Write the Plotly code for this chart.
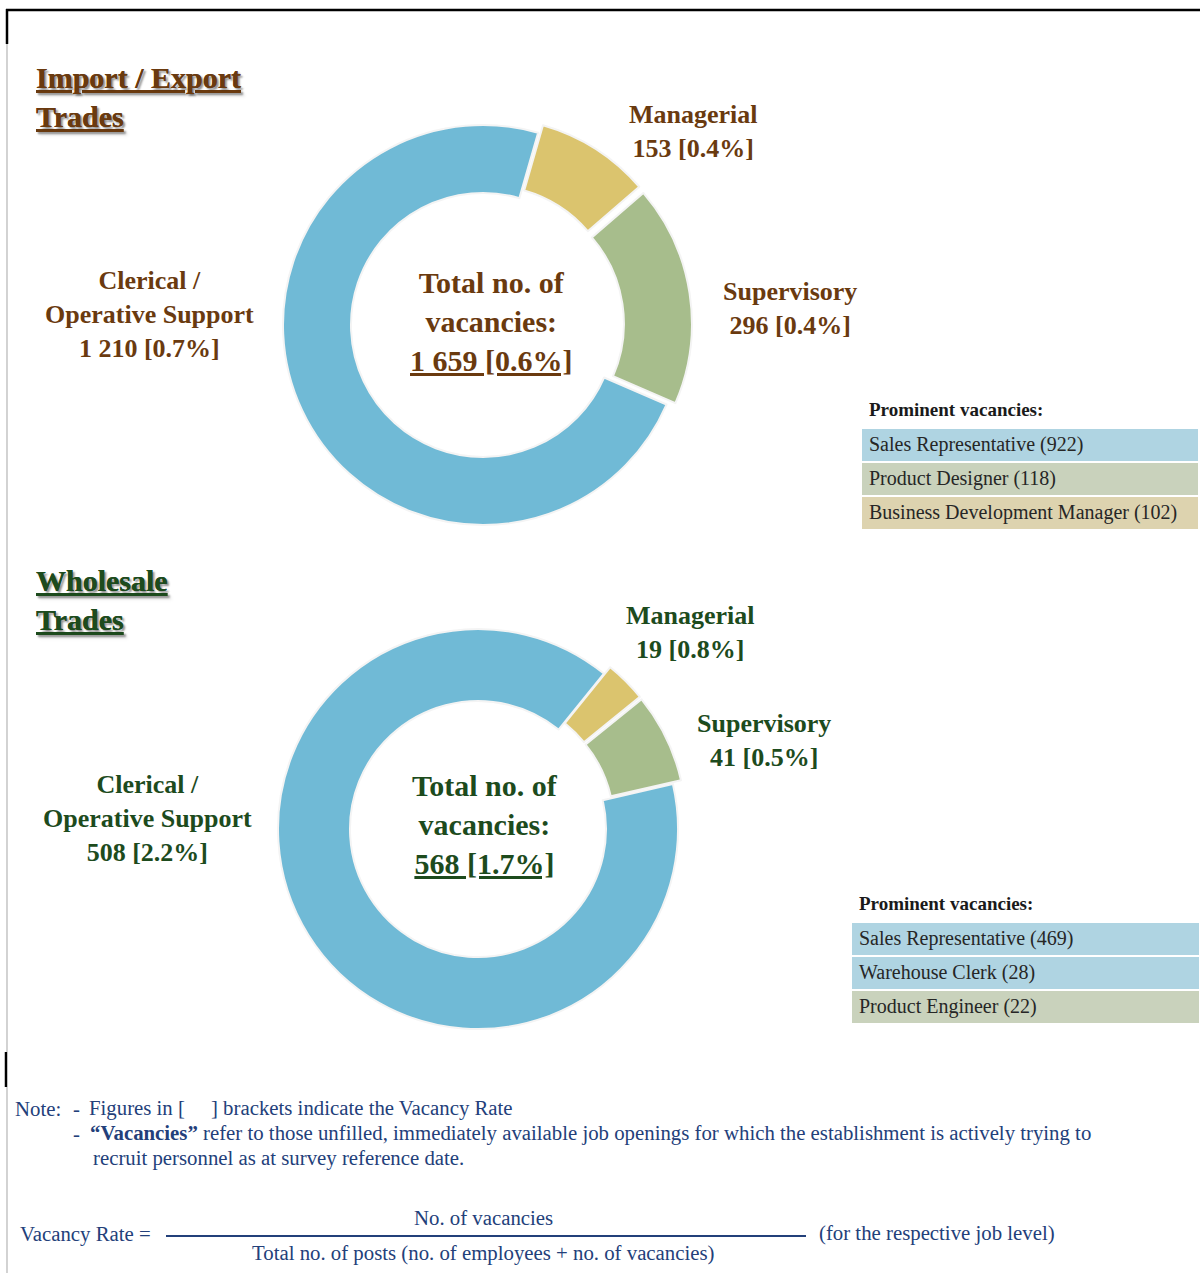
import plotly.graph_objects as go

W, H = 1200, 1273

# ---------------- data ----------------
levels = ["Managerial", "Supervisory", "Clerical /<br>Operative Support"]
slice_colors = ["#DBC46E", "#A7BD8C", "#70BAD6"]

ie_values = [153, 296, 1210]
ie_rates = ["0.4%", "0.4%", "0.7%"]
ie_total_rate = "0.6%"

ws_values = [19, 41, 508]
ws_rates = ["0.8%", "0.5%", "2.2%"]
ws_total_rate = "1.7%"

ie_prominent = ["Sales Representative (922)", "Product Designer (118)",
                "Business Development Manager (102)"]
ie_prominent_colors = ["#AFD4E2", "#C9D2BC", "#DDD3AF"]
ws_prominent = ["Sales Representative (469)", "Warehouse Clerk (28)",
                "Product Engineer (22)"]
ws_prominent_colors = ["#AFD4E2", "#AFD4E2", "#C9D2BC"]

SERIF = "Liberation Serif, Times New Roman, serif"
BROWN = "#6A3A0F"
GREEN = "#1D4B1D"
NAVY = "#23407A"
NBSP = "\u00a0"


def px(x):
    return x / W


def py(y):
    return 1 - y / H


def fmt(v):
    return f"{v:,}".replace(",", " ")


fig = go.Figure()

PULL = 0.045
R = 200
BOX = 2 * R * (1 + PULL)


def add_pie(values, cx, cy, rotation, hole):
    fig.add_trace(go.Pie(
        labels=[l.replace("<br>", " ") for l in levels],
        values=values,
        sort=False,
        direction="clockwise",
        rotation=rotation,
        hole=hole,
        pull=[PULL, PULL, 0],
        marker=dict(colors=slice_colors, line=dict(color="#F4F4F4", width=2)),
        textinfo="none",
        hoverinfo="label+value",
        showlegend=False,
        domain=dict(x=[px(cx - BOX / 2), px(cx + BOX / 2)],
                    y=[py(cy + BOX / 2), py(cy - BOX / 2)]),
    ))


add_pie(ie_values, 483, 325, 16, 0.66)
add_pie(ws_values, 478, 829, 39, 0.64)


def add_table(items, colors, x0, ytop):
    fig.add_trace(go.Table(
        domain=dict(x=[px(x0), 1], y=[py(ytop + 34 * 4 + 4), py(ytop)]),
        columnwidth=[1],
        header=dict(values=["<b>Prominent vacancies:</b>"],
                    fill_color="white", line=dict(color="white", width=0),
                    align="left", height=34,
                    font=dict(family=SERIF, size=19, color="#1A1A1A")),
        cells=dict(values=[items], fill_color=[colors],
                   line=dict(color="white", width=2),
                   align="left", height=34,
                   font=dict(family=SERIF, size=20, color="#262626")),
    ))


add_table(ie_prominent, ie_prominent_colors, 861, 391)
add_table(ws_prominent, ws_prominent_colors, 851, 885)

annotations = []


def ann(text, x, y, size, color, xanchor="center", bold=True, shadow=None,
        align="center"):
    f = dict(family=SERIF, size=size, color=color)
    if shadow:
        f["shadow"] = shadow
    annotations.append(dict(
        text=f"<b>{text}</b>" if bold else text,
        x=px(x), y=py(y), xref="paper", yref="paper",
        xanchor=xanchor, yanchor="middle", align=align,
        showarrow=False, font=f))


def total_text(values, rate):
    t = f"{fmt(sum(values))} [{rate}]".replace(" ", NBSP)
    return f"Total no. of<br>vacancies:<br><u>{t}</u>"


SHADOW = "2px 2px 2px rgba(0,0,0,0.25)"
LS = 26     # pie label size
CS = 30     # centre text size
HS = 30     # heading size
NS = 20.8   # note size

# Import / Export section
ann("<u>Import / Export</u><br><u>Trades</u>", 34, 97, HS, BROWN,
    xanchor="left", shadow=SHADOW, align="left")
ann(f"{levels[0]}<br>{fmt(ie_values[0])} [{ie_rates[0]}]", 693, 131, LS, BROWN)
ann(f"{levels[1]}<br>{fmt(ie_values[1])} [{ie_rates[1]}]", 790, 308, LS, BROWN)
ann(f"{levels[2]}<br>{fmt(ie_values[2])} [{ie_rates[2]}]", 149, 315, LS, BROWN)
ann(total_text(ie_values, ie_total_rate), 491, 321, CS, BROWN)

# Wholesale section
ann("<u>Wholesale</u><br><u>Trades</u>", 34, 600, HS, GREEN,
    xanchor="left", shadow=SHADOW, align="left")
ann(f"{levels[0]}<br>{fmt(ws_values[0])} [{ws_rates[0]}]", 690, 632, LS, GREEN)
ann(f"{levels[1]}<br>{fmt(ws_values[1])} [{ws_rates[1]}]", 764, 740, LS, GREEN)
ann(f"{levels[2]}<br>{fmt(ws_values[2])} [{ws_rates[2]}]", 147, 818, LS, GREEN)
ann(total_text(ws_values, ws_total_rate), 485, 824, CS, GREEN)

# Notes
ann("Note:", 13, 1108, NS, NAVY, xanchor="left", bold=False)
ann("-", 71, 1108, NS, NAVY, xanchor="left", bold=False)
ann("Figures in [", 87, 1108, NS, NAVY, xanchor="left", bold=False)
ann("] brackets indicate the Vacancy Rate", 209, 1108, NS, NAVY,
    xanchor="left", bold=False)
ann("-", 71, 1133, NS, NAVY, xanchor="left", bold=False)
ann("<b>“Vacancies”</b> refer to those unfilled, immediately available job "
    "openings for which the establishment is actively trying to",
    88, 1133, NS, NAVY, xanchor="left", bold=False)
ann("recruit personnel as at survey reference date.", 91, 1158, NS, NAVY,
    xanchor="left", bold=False)
ann("Vacancy Rate =", 18, 1234, NS, NAVY, xanchor="left", bold=False)
ann("No. of vacancies", 483, 1217, NS, NAVY, bold=False)
ann("Total no. of posts (no. of employees + no. of vacancies)", 483, 1253, NS,
    NAVY, bold=False)
ann("(for the respective job level)", 817, 1233, NS, NAVY, xanchor="left",
    bold=False)


def line(x0, y0, x1, y1, color, width):
    return dict(type="line", xref="paper", yref="paper",
                x0=px(x0), y0=py(y0), x1=px(x1), y1=py(y1),
                line=dict(color=color, width=width))


shapes = [
    line(6, 10, 1200, 10, "black", 2.5),
    line(7, 9, 7, 44, "black", 2.5),
    line(7, 44, 7, 1052, "#B5B5B5", 1.2),
    line(6, 1052, 6, 1087, "black", 2.5),
    line(7, 1087, 7, 1273, "#B5B5B5", 1.2),
    line(166, 1236, 806, 1236, NAVY, 2),
]

fig.update_layout(
    width=W, height=H,
    margin=dict(l=0, r=0, t=0, b=0),
    paper_bgcolor="white", plot_bgcolor="white",
    annotations=annotations, shapes=shapes,
    showlegend=False,
)

fig.write_html("out.html",
               config={"displayModeBar": False},
               post_script="document.body.style.margin='0';"
                           "document.body.style.overflow='hidden';")
